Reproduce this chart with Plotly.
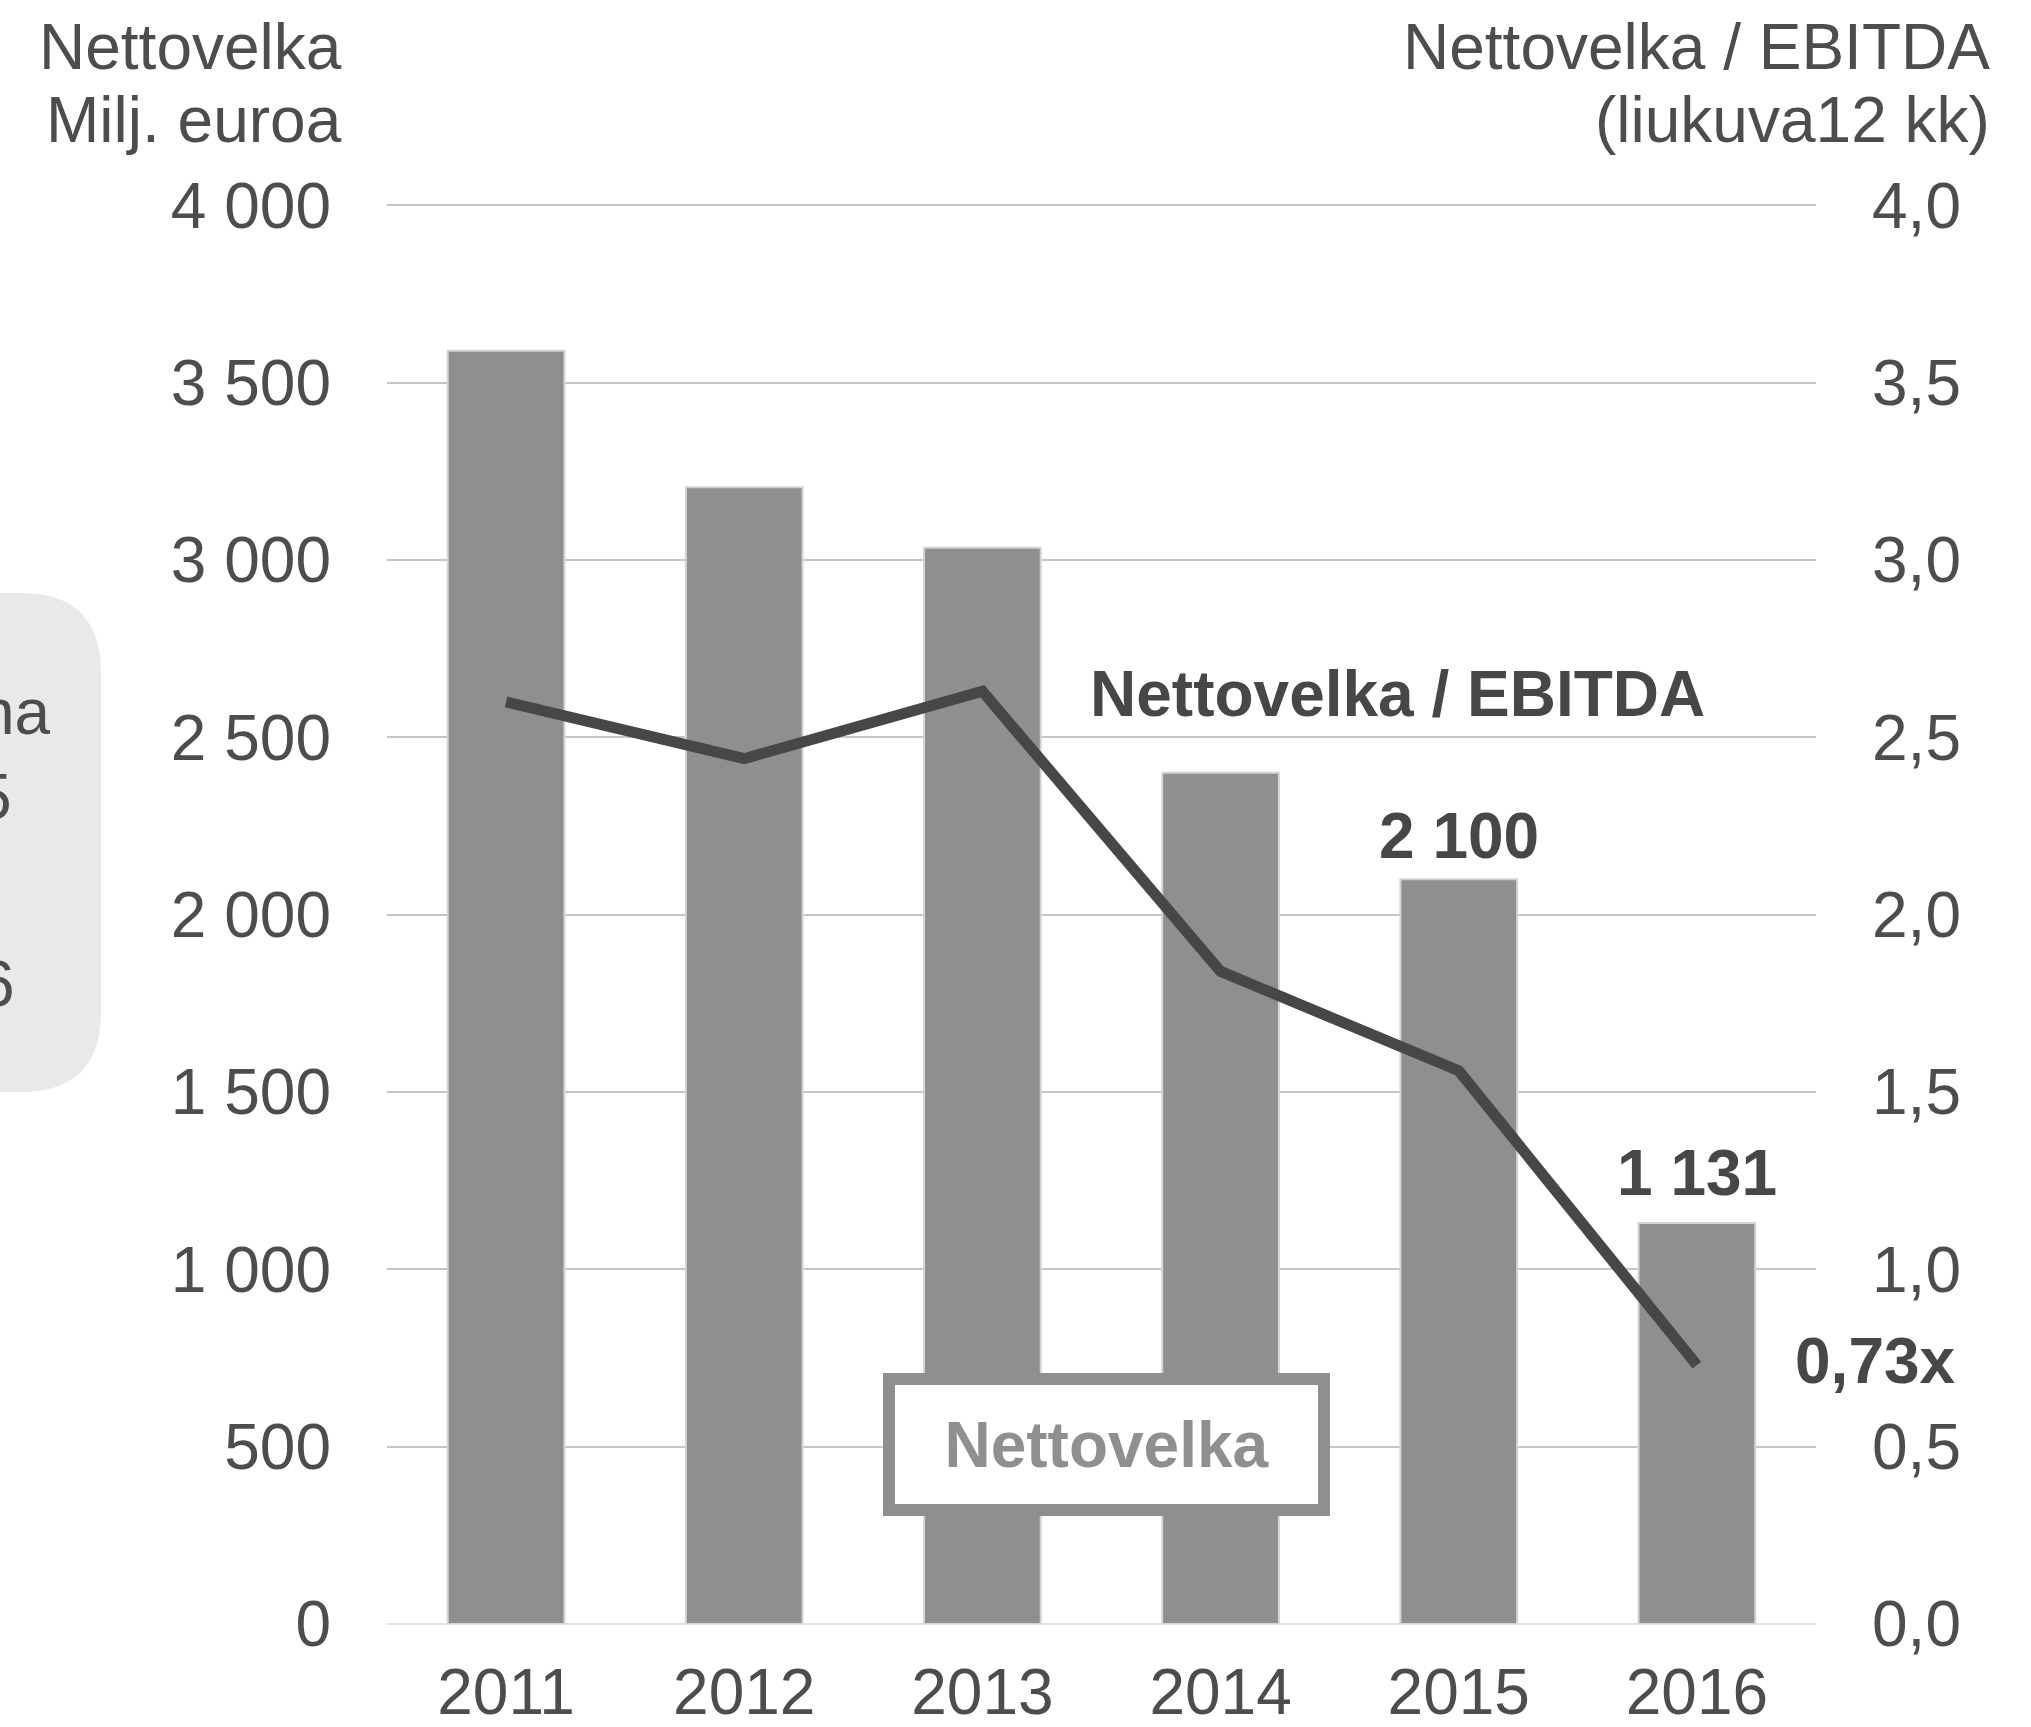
import plotly.graph_objects as go

# ---- data ----
years = ["2011", "2012", "2013", "2014", "2015", "2016"]
nettovelka = [3590, 3205, 3035, 2400, 2100, 1131]          # Milj. euroa
nv_ebitda = [2.60, 2.44, 2.63, 1.84, 1.56, 0.73]            # Nettovelka / EBITDA
labelled_years = ["2015", "2016"]
left_ticks = [0, 500, 1000, 1500, 2000, 2500, 3000, 3500, 4000]
right_ticks = [0.0, 0.5, 1.0, 1.5, 2.0, 2.5, 3.0, 3.5, 4.0]

FONT = "Liberation Sans, Arial, sans-serif"
TXT = "#4d4d4d"
DARK = "#474747"
BAR = "#8f8f8f"
FS = 64

W, H = 2031, 1727
ML, MR, MT, MB = 387, 215, 204, 103
PW, PH = W - ML - MR, H - MT - MB


def px(x):
    return (x - ML) / PW


def py(y):
    return (H - MB - y) / PH


def fmt_int(v):
    return f"{v:,}".replace(",", " ")


fig = go.Figure()
fig.add_trace(go.Bar(
    x=list(range(len(years))), y=nettovelka, width=0.49,
    marker=dict(color=BAR, line=dict(color="#d4d4d4", width=2)),
    yaxis="y", hoverinfo="skip",
))
fig.add_trace(go.Scatter(
    x=list(range(len(years))), y=nv_ebitda, mode="lines",
    line=dict(color=DARK, width=11),
    yaxis="y2", hoverinfo="skip",
))

annotations = []
# value labels for the last bars
label_shift = {"2015": 43, "2016": 50}
for yr in labelled_years:
    i = years.index(yr)
    annotations.append(dict(
        x=i, y=nettovelka[i], xref="x", yref="y",
        text=f"<b>{fmt_int(nettovelka[i])}</b>", showarrow=False,
        xanchor="center", yanchor="middle", yshift=label_shift[yr],
        font=dict(family=FONT, size=FS, color=DARK),
    ))
# last ratio label
last = len(years) - 1
annotations.append(dict(
    x=last, y=nv_ebitda[last], xref="x", yref="y2",
    text="<b>" + f"{nv_ebitda[last]:.2f}".replace(".", ",") + "x</b>",
    showarrow=False, xanchor="left", yanchor="middle", xshift=96, yshift=4,
    font=dict(family=FONT, size=FS, color=DARK),
))
# series labels
annotations.append(dict(
    x=px(1397), y=py(694), xref="paper", yref="paper",
    text="<b>Nettovelka / EBITDA</b>", showarrow=False,
    xanchor="center", yanchor="middle",
    font=dict(family=FONT, size=FS, color=DARK),
))
annotations.append(dict(
    x=px(1106.5), y=py(1444.5), xref="paper", yref="paper",
    text="<b>Nettovelka</b>", showarrow=False,
    xanchor="center", yanchor="middle",
    width=423, height=119, borderwidth=12, borderpad=0,
    bordercolor=BAR, bgcolor="white",
    font=dict(family=FONT, size=FS, color=BAR),
))
# axis titles (one annotation per line for exact spacing)
for t, xr, yc in [("Nettovelka", 344, 47), ("Milj. euroa", 344, 120),
                  ("Nettovelka / EBITDA", 1992, 47), ("(liukuva12 kk)", 1992, 120)]:
    annotations.append(dict(
        x=px(xr), y=py(yc), xref="paper", yref="paper",
        text=t, showarrow=False, xanchor="right", yanchor="middle",
        font=dict(family=FONT, size=FS, color=TXT),
    ))
# clipped side panel text
for t, xr, yc in [("na", 53, 712), ("5", 14, 797), ("6", 17, 984)]:
    annotations.append(dict(
        x=px(xr), y=py(yc), xref="paper", yref="paper",
        text=t, showarrow=False, xanchor="right", yanchor="middle",
        font=dict(family=FONT, size=FS, color=TXT),
    ))

# rounded side panel (partially off-canvas)
x0, x1, y0, y1, r = -60, 101, 593, 1092, 80
path = (f"M {px(x0)},{py(y0)} L {px(x1 - r)},{py(y0)} "
        f"Q {px(x1)},{py(y0)} {px(x1)},{py(y0 + r)} "
        f"L {px(x1)},{py(y1 - r)} "
        f"Q {px(x1)},{py(y1)} {px(x1 - r)},{py(y1)} "
        f"L {px(x0)},{py(y1)} Z")
shapes = [dict(type="path", path=path, xref="paper", yref="paper",
               fillcolor="#e8e9e8", line=dict(width=0), layer="below")]

fig.update_layout(
    width=W, height=H,
    margin=dict(l=ML, r=MR, t=MT, b=MB, pad=0, autoexpand=False),
    paper_bgcolor="white", plot_bgcolor="white",
    showlegend=False, separators=", ",
    font=dict(family=FONT, size=FS, color=TXT),
    xaxis=dict(
        range=[-0.5, 5.5], tickvals=list(range(len(years))), ticktext=years,
        showgrid=False, showline=False, automargin=False,
        zeroline=False, ticks="", ticklabelstandoff=25,
        tickfont=dict(family=FONT, size=FS, color=TXT),
    ),
    yaxis=dict(
        range=[0, 4004], tickvals=left_ticks,
        ticktext=[fmt_int(v) for v in left_ticks],
        showgrid=True, gridcolor="#c6c6c6", gridwidth=2, automargin=False,
        zeroline=True, zerolinecolor="#e2e2e2", zerolinewidth=2,
        showline=False, ticks="", ticklabelstandoff=55,
        tickfont=dict(family=FONT, size=FS, color=TXT),
    ),
    yaxis2=dict(
        range=[0, 4.004], overlaying="y", side="right", tickvals=right_ticks,
        ticktext=[f"{v:.1f}".replace(".", ",") for v in right_ticks],
        showgrid=False, zeroline=False, showline=False, ticks="",
        ticklabelstandoff=55, automargin=False,
        tickfont=dict(family=FONT, size=FS, color=TXT),
    ),
    annotations=annotations, shapes=shapes,
)

fig.write_html("out.html", config={"displayModeBar": False},
               post_script="document.body.style.margin='0';")
